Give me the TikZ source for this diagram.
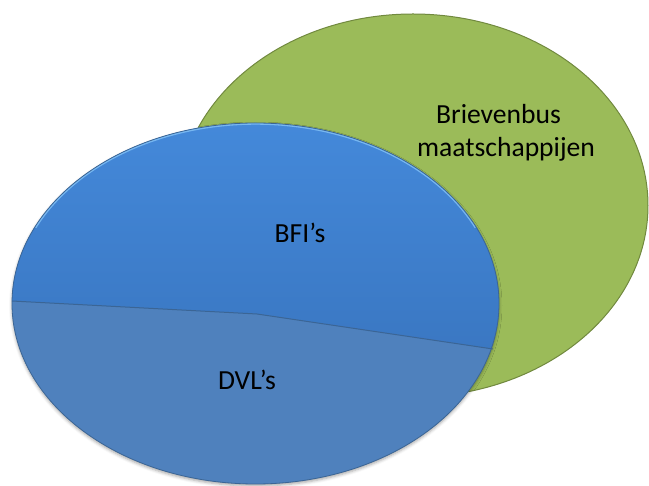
\documentclass[tikz,border=0pt]{standalone}
\usepackage{fontspec}
\setmainfont{Carlito}
\usetikzlibrary{shadows.blur}
\definecolor{leafgreen}{HTML}{9BBB59}
\definecolor{leafedge}{HTML}{71893F}
\definecolor{skytop}{HTML}{4489DA}
\definecolor{skybot}{HTML}{3A77C2}
\definecolor{steel}{HTML}{4F81BD}
\definecolor{steeledge}{HTML}{3B6595}
\definecolor{rimlight}{HTML}{80C0F6}
\begin{document}
\begin{tikzpicture}[x=1pt,y=-1pt,
  settext/.style={font=\fontsize{27.6}{33.4}\selectfont, text=black,
    inner sep=0pt, anchor=base, align=center}]
\useasboundingbox (0,0) rectangle (649,486);

% outer set: letterbox companies
\coordinate (g) at (413,205.5);
\path[fill=leafgreen, draw=leafedge, line width=1pt]
  (g) ellipse [x radius=235, y radius=191.5];

% inner set, lower half first
\coordinate (c) at (255.5,303.5);
\path[fill=steel, blur shadow={shadow xshift=0pt, shadow yshift=-2pt,
    shadow blur radius=3pt, shadow opacity=35}]
  (c) ellipse [x radius=243.5, y radius=180.5];

% upper half with its gradient and light rim
\begin{scope}
  \clip (c) ellipse [x radius=243.5, y radius=180.5];
  \clip (-5,300.4) -- (12,301) -- (257,314) -- (493,349) -- (515,352.3)
        -- (515,100) -- (-5,100) -- cycle;
  \shade[top color=skytop, bottom color=skybot] (0,120) rectangle (515,355);
  \draw[rimlight, line width=3.5pt, opacity=0.85]
    ([shift={(205:243.5 and 180.5)}]c)
    arc [start angle=205, end angle=335, x radius=243.5, y radius=180.5];
\end{scope}

% dividing line and outline
\draw[steeledge, line width=1pt] (12,301) -- (257,314) -- (493,349);
\draw[steeledge, line width=0.8pt] (c) ellipse [x radius=243.5, y radius=180.5];

% labels (anchor base = baseline of the last line)
\node[settext] (mail) at (506,157) {Brievenbus\hspace*{15pt}\\maatschappijen};
\node[settext] (bfi) at (300,243) {BFI’s};
\node[settext] (dvl) at (247,390) {DVL’s};
\end{tikzpicture}
\end{document}
